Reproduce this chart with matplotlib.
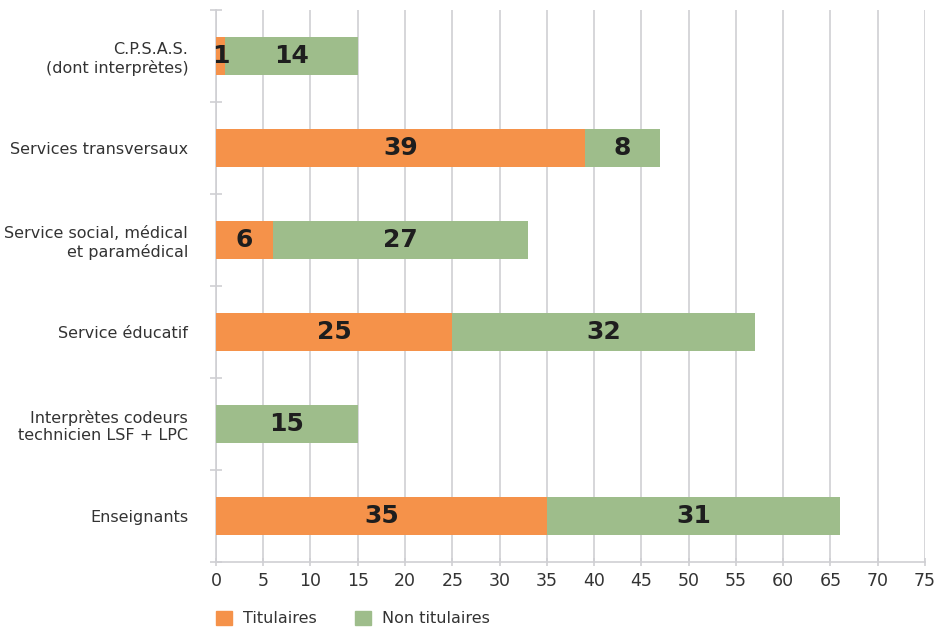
import matplotlib
matplotlib.use("Agg")
import matplotlib.pyplot as plt
import numpy as np
from matplotlib.patches import Patch

# bottom to top
categories = [
    "Enseignants",
    "Interprètes codeurs\ntechnicien LSF + LPC",
    "Service éducatif",
    "Service social, médical\net paramédical",
    "Services transversaux",
    "C.P.S.A.S.\n(dont interprètes)",
]
titulaires = [35, 0, 25, 6, 39, 1]
non_titulaires = [31, 15, 32, 27, 8, 14]
x_ticks = list(range(0, 80, 5))

ORANGE = "#F5924A"
GREEN = "#9EBD8B"
GRID = "#CFCFD3"

fig = plt.figure(figsize=(9.41, 6.28), dpi=100)
ax = fig.add_axes([0.2295, 0.105, 0.7535, 0.879])

y = np.arange(len(categories))
h = 0.42
ax.barh(y, titulaires, height=h, color=ORANGE, zorder=3)
ax.barh(y, non_titulaires, left=titulaires, height=h, color=GREEN, zorder=3)

for i in range(len(categories)):
    t, n = titulaires[i], non_titulaires[i]
    if t > 0:
        ax.text(t / 2, y[i], str(t), ha="center", va="center",
                fontsize=18, fontweight="bold", color="#1E1E1E", zorder=4)
    if n > 0:
        ax.text(t + n / 2, y[i], str(n), ha="center", va="center",
                fontsize=18, fontweight="bold", color="#1E1E1E", zorder=4)

ax.set_xlim(0, 75)
ax.set_ylim(-0.5, len(categories) - 0.5)
ax.set_xticks(x_ticks)
ax.set_yticks(y)
ax.set_yticklabels(categories, fontsize=11.5, color="#333333")
ax.set_yticks(np.arange(-0.5, len(categories), 1), minor=True)
ax.tick_params(axis="y", which="major", length=0, pad=20)
ax.tick_params(axis="y", which="minor", length=8, direction="inout",
               color=GRID, width=1.2)
ax.tick_params(axis="x", length=6, direction="inout", color=GRID, width=1.2,
               labelsize=12.5, labelcolor="#333333", pad=4)

ax.grid(axis="x", color=GRID, linewidth=1.2, zorder=0)
for s in ["top", "right"]:
    ax.spines[s].set_visible(False)
for s in ["left", "bottom"]:
    ax.spines[s].set_color(GRID)
    ax.spines[s].set_linewidth(1.2)

handles = [Patch(color=ORANGE, label="Titulaires"),
           Patch(color=GREEN, label="Non titulaires")]
fig.legend(handles=handles, loc="lower left", bbox_to_anchor=(0.214, -0.02),
           ncol=2, frameon=False, fontsize=11.5, handlelength=1.0,
           handleheight=1.0, columnspacing=2.4, handletextpad=0.7,
           labelcolor="#333333")

fig.savefig("out.png", dpi=100)
